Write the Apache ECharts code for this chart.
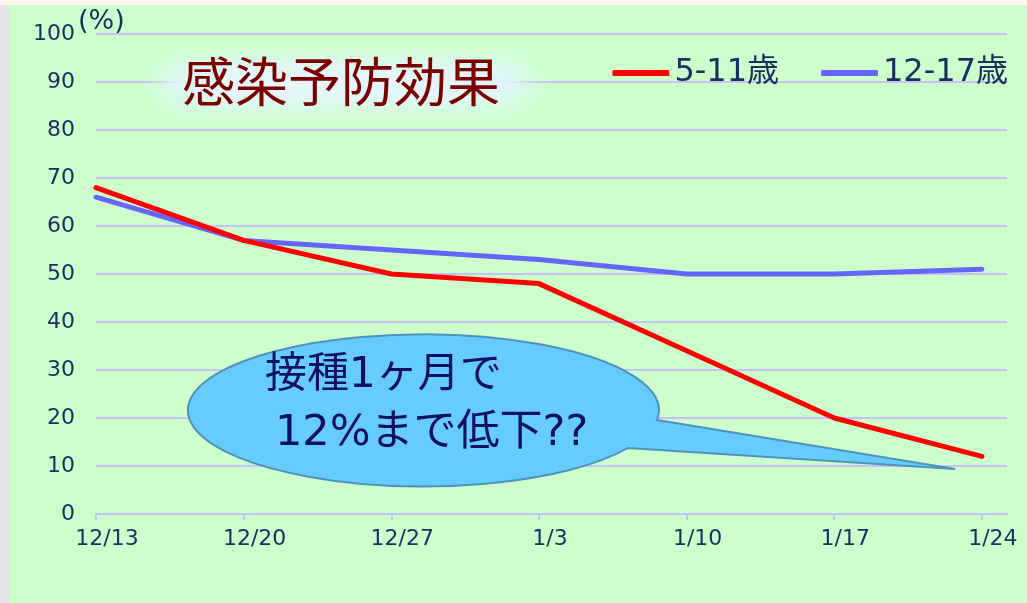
<!DOCTYPE html>
<html>
<head>
<meta charset="utf-8">
<script src="https://cdn.jsdelivr.net/npm/echarts@6/dist/echarts.min.js"></script>
<style>
  html, body { margin: 0; padding: 0; }
  body { width: 1027px; height: 603px; background: #e2e6e6; position: relative; overflow: hidden; }
  #topStrip { position: absolute; left: 0; top: 0; width: 1027px; height: 5px; background: #fbf5f2; }
  #paper { position: absolute; left: 10px; top: 5px; width: 1017px; height: 598px; background: #ccffcc; }
  #main { position: absolute; left: 0; top: 0; width: 1027px; height: 603px; }
</style>
</head>
<body>
<div id="topStrip"></div>
<div id="paper"></div>
<div id="main"></div>
<script>
// weekly dates
const categories = ['12/13', '12/20', '12/27', '1/3', '1/10', '1/17', '1/24']
// vaccine effectiveness (%)
const kids5to11 = [68, 57, 50, 48, 34, 20, 12]
const teens12to17 = [66, 57, 55, 53, 50, 50, 51]
const yTicks = [0, 10, 20, 30, 40, 50, 60, 70, 80, 90, 100]

const navy = '#17305e'
const font = '"DejaVu Sans", "Noto Sans CJK JP", sans-serif'
const cjkFont = '"Noto Sans CJK JP", sans-serif'
const idx = categories.map((c, i) => i)

// speech bubble shape (ellipse + tail)
const Bubble = echarts.graphic.extendPath('M657 420 L955 469 L628 448 A235.5 76 0 1 1 657 420 Z', {})
echarts.graphic.registerShape('bubble', Bubble)

const chart = echarts.init(document.getElementById('main'), null, { renderer: 'canvas' })

chart.setOption({
  backgroundColor: 'transparent',
  animation: false,
  textStyle: { fontFamily: font },
  grid: { left: 96, right: 20, top: 34, bottom: 89, containLabel: false, outerBoundsMode: 'none' },
  legend: {
    right: 14,
    top: 52,
    icon: 'roundRect',
    itemWidth: 57,
    itemHeight: 6,
    itemGap: 42,
    textStyle: { color: navy, fontSize: 32, fontFamily: font },
    data: ['5-11歳', '12-17歳']
  },
  xAxis: {
    type: 'value',
    min: 0,
    max: 6.17,
    interval: 1,
    splitLine: { show: false },
    axisLine: { show: true, lineStyle: { color: '#c4c4f4', width: 2 } },
    axisTick: { show: true, length: 6, customValues: idx, lineStyle: { color: '#c4c4f4', width: 2 } },
    axisLabel: {
      customValues: idx,
      formatter: v => categories[v] || '',
      color: navy,
      fontSize: 22,
      fontFamily: font,
      padding: [0, 0, 0, 22],
      margin: 14
    }
  },
  yAxis: {
    type: 'value',
    min: yTicks[0],
    max: yTicks[yTicks.length - 1],
    interval: 10,
    axisLine: { show: false },
    axisTick: { show: false },
    axisLabel: { color: navy, fontSize: 22, fontFamily: font, margin: 21 },
    splitLine: { lineStyle: { color: '#c4c4f4', width: 2 } }
  },
  series: [
    {
      name: '5-11歳',
      type: 'line',
      symbol: 'none',
      color: '#ff0000',
      lineStyle: { width: 5, cap: 'round', join: 'round' },
      data: kids5to11.map((v, i) => [i, v]),
      z: 3
    },
    {
      name: '12-17歳',
      type: 'line',
      symbol: 'none',
      color: '#6666ff',
      lineStyle: { width: 5, cap: 'round', join: 'round' },
      data: teens12to17.map((v, i) => [i, v]),
      z: 2
    }
  ],
  graphic: [
    // unit label of the y axis
    {
      type: 'text',
      x: 78,
      y: 8,
      style: { text: '(%)', fill: navy, font: '27px ' + font },
      z: 11
    },
    // soft glow behind the title (only the blurred shadow is on screen)
    {
      type: 'rect',
      shape: { x: 160 - 3000, y: 62, width: 370, height: 42, r: 20 },
      style: {
        fill: '#e0f4fb',
        shadowBlur: 24,
        shadowColor: '#e0f4fb',
        shadowOffsetX: 3000
      },
      z: 10
    },
    {
      type: 'rect',
      shape: { x: 200 - 3000, y: 68, width: 290, height: 30, r: 15 },
      style: {
        fill: '#e6f6fb',
        shadowBlur: 20,
        shadowColor: '#e6f6fb',
        shadowOffsetX: 3000
      },
      z: 10
    },
    {
      type: 'text',
      x: 182,
      y: 55,
      style: { text: '感染予防効果', fill: '#7a0000', font: '53px ' + cjkFont },
      z: 11
    },
    // callout bubble
    {
      type: 'bubble',
      style: { fill: '#66ccff', stroke: '#4f93bd', lineWidth: 2 },
      z: 10
    },
    {
      type: 'text',
      x: 265,
      y: 355,
      style: { text: '接種1ヶ月で', fill: '#101060', font: '42px ' + font },
      z: 11
    },
    {
      type: 'text',
      x: 275,
      y: 412,
      style: { text: '12%まで低下??', fill: '#101060', font: '43px ' + font },
      z: 11
    }
  ]
})
</script>
</body>
</html>
